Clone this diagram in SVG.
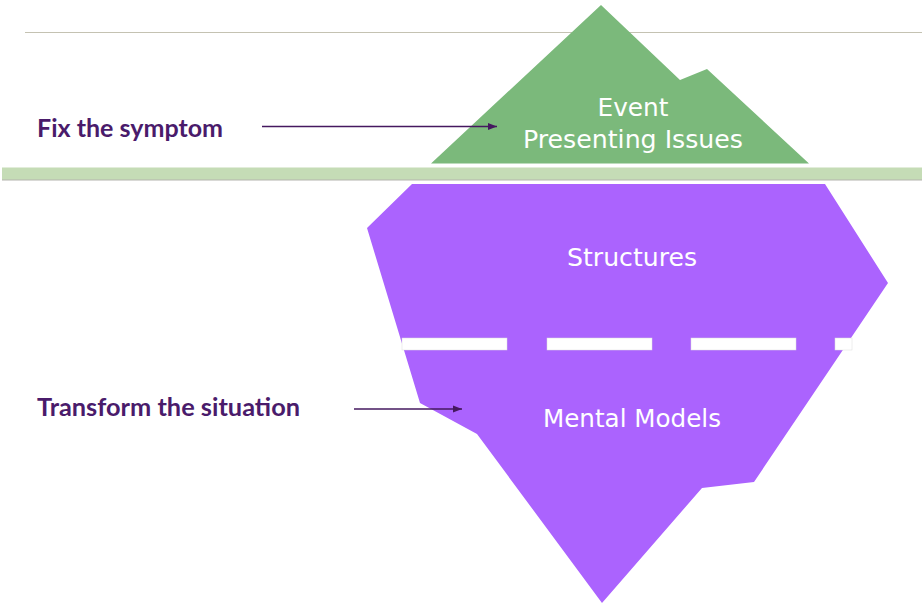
<svg xmlns="http://www.w3.org/2000/svg" width="922" height="605" viewBox="0 0 922 605">
  <style>
    .lbl { font-family: Lato, "Open Sans", "Liberation Sans", sans-serif; font-weight: bold; fill: #4a1b6b; font-size: 24px; }
    .inner { font-family: "DejaVu Sans", "Liberation Sans", sans-serif; fill: #ffffff; font-size: 24px; text-anchor: middle; }
    .conn { stroke: #45185f; stroke-width: 1.6; fill: none; marker-end: url(#ah); }
    .dash { fill: #ffffff; stroke: #dcdcdc; stroke-width: 0.5; }
  </style>
  <defs>
    <marker id="ah" markerWidth="10" markerHeight="8" refX="9" refY="4" orient="auto" markerUnits="userSpaceOnUse">
      <path d="M0,0.5 L9,4 L0,7.5 Z" fill="#45185f"/>
    </marker>
  </defs>
  <rect width="922" height="605" fill="#ffffff"/>
  <line x1="25" y1="32.5" x2="922" y2="32.5" stroke="#c4c2b2" stroke-width="1.2"/>
  <g id="waterline">
    <rect x="2" y="167.5" width="920" height="12.5" fill="#c5dcb6"/>
    <line x1="2" y1="180" x2="922" y2="180" stroke="#b4b4ae" stroke-width="1"/>
  </g>
  <g id="event">
    <polygon points="431,163.5 601,5 680,80 707,69 809,163.5" fill="#7bb97b"/>
    <text class="inner" x="633" y="116" textLength="71" lengthAdjust="spacingAndGlyphs">Event</text>
    <text class="inner" x="633" y="148" textLength="220" lengthAdjust="spacingAndGlyphs">Presenting Issues</text>
  </g>
  <g id="iceberg">
    <polygon points="412,184 825,184 888,283 754,482 702,488 602,603 477,434 420,403 367,228" fill="#ab63fe"/>
  </g>
  <g id="structures">
    <text class="inner" x="632" y="266" textLength="130" lengthAdjust="spacingAndGlyphs">Structures</text>
  </g>
  <g id="divider">
    <rect class="dash" x="402" y="338" width="105" height="12"/>
    <rect class="dash" x="547" y="338" width="105" height="12"/>
    <rect class="dash" x="691" y="338" width="105" height="12"/>
    <rect class="dash" x="835" y="338" width="17" height="12"/>
  </g>
  <g id="mental-models">
    <text class="inner" x="632" y="427" textLength="178" lengthAdjust="spacingAndGlyphs">Mental Models</text>
  </g>
  <g id="fix-symptom">
    <text class="lbl" x="37" y="137" textLength="186" lengthAdjust="spacingAndGlyphs">Fix the symptom</text>
  </g>
  <g id="transform-situation">
    <text class="lbl" x="37" y="416" textLength="263" lengthAdjust="spacingAndGlyphs">Transform the situation</text>
  </g>
  <g id="connectors">
    <line class="conn" x1="262" y1="126.5" x2="497" y2="126.5"/>
    <line class="conn" x1="354" y1="409" x2="462" y2="409"/>
  </g>
</svg>
